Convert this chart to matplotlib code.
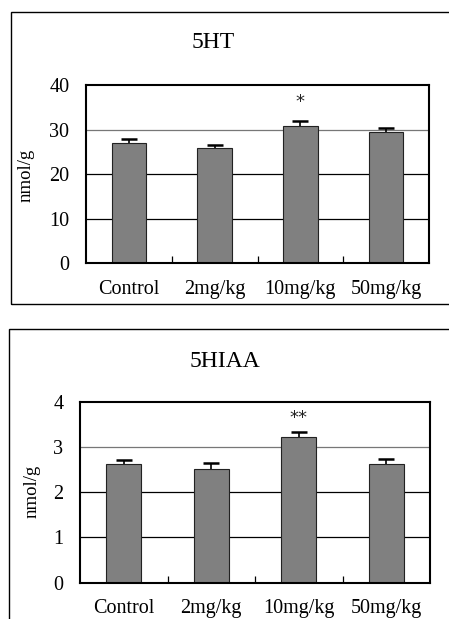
import matplotlib
matplotlib.use("Agg")
import matplotlib.pyplot as plt
from matplotlib.patches import Rectangle

groups = ["Control", "2mg/kg", "10mg/kg", "50mg/kg"]

ht_mean = [26.9, 25.8, 30.7, 29.4]
ht_err = [1.0, 0.7, 1.3, 0.9]
ht_marks = ["", "", "*", ""]

hiaa_mean = [2.62, 2.51, 3.21, 2.62]
hiaa_err = [0.10, 0.14, 0.12, 0.12]
hiaa_marks = ["", "", "**", ""]

W, H = 449, 619
FONT = "Liberation Serif"


def px_axes(fig, left, right, top, bottom):
    return fig.add_axes([left / W, (H - bottom) / H, (right - left) / W, (bottom - top) / H])


def panel(ax, means, errs, marks, ymax, step, mark_y, grid_colors, label_xy):
    x = list(range(len(groups)))
    ax.set_xlim(-0.5, len(groups) - 0.5)
    ax.set_ylim(0, ymax)
    for yv, c in zip(range(step, ymax, step), grid_colors):
        ax.axhline(yv, color=c, lw=0.9, zorder=1)
    ax.bar(x, means, width=0.4, color="#808080", edgecolor="#222222", lw=0.8, zorder=2)
    _, caps, _ = ax.errorbar(x, means, yerr=[[0] * len(errs), errs], fmt="none", ecolor="black",
                             elinewidth=1.2, capsize=5.5, capthick=1.8, zorder=3)
    caps[0].set_visible(False)  # only the upper half of the bar is shown
    for xi, m in zip(x, marks):
        if m:
            ax.text(xi, mark_y, m, ha="center", va="center", fontsize=13, family="DejaVu Sans",
                    color="#222222")
    ax.set_xticks(x)
    ax.set_xticklabels(groups, family=FONT, fontsize=14.5)
    ax.set_xticks([0.5, 1.5, 2.5], minor=True)
    ax.tick_params(axis="x", which="major", length=0, pad=12)
    ax.tick_params(axis="x", which="minor", direction="in", length=5, width=0.9)
    ax.set_yticks(range(0, ymax + 1, step))
    ax.tick_params(axis="y", length=0, pad=12)
    for t in ax.get_yticklabels():
        t.set_family(FONT)
        t.set_fontsize(14.5)
    for s in ax.spines.values():
        s.set_linewidth(1.5)
        s.set_color("black")
    ax.set_ylabel("nmol/g", family=FONT, fontsize=13.5)
    ax.yaxis.set_label_coords(*label_xy)


fig = plt.figure(figsize=(W / 100, H / 100), dpi=100)

# outer frames
fig.patches.append(Rectangle((11 / W, (H - 304) / H), 1.0, 292 / H, transform=fig.transFigure,
                             fill=False, ec="black", lw=1.0, clip_on=False))
fig.patches.append(Rectangle((9.3 / W, -0.1), 1.0, (H - 329) / H + 0.1, transform=fig.transFigure,
                             fill=False, ec="black", lw=1.0, clip_on=False))

ax1 = px_axes(fig, 86, 429, 85, 263)
panel(ax1, ht_mean, ht_err, ht_marks, 40, 10, 36.2, ["black", "black", "#777777"], (-0.149, 0.494))
fig.text(213 / W, (H - 43) / H, "5HT", ha="center", va="center", family=FONT, fontsize=17)

ax2 = px_axes(fig, 80, 430, 401.7, 582.7)
panel(ax2, hiaa_mean, hiaa_err, hiaa_marks, 4, 1, 3.63, ["black", "black", "#777777"], (-0.114, 0.503))
fig.text(225 / W, (H - 361.7) / H, "5HIAA", ha="center", va="center", family=FONT, fontsize=17)

fig.savefig("out.png", dpi=100)
